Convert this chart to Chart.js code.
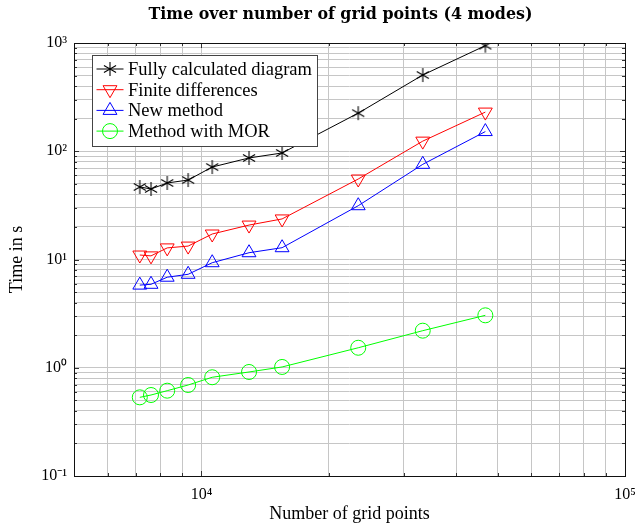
<!DOCTYPE html>
<html><head><meta charset="utf-8">
<script src="https://cdn.jsdelivr.net/npm/chart.js@4.4.1/dist/chart.umd.min.js"></script>
<style>html,body{margin:0;padding:0;background:#fff;}</style>
</head><body>
<canvas id="c" width="635" height="523"></canvas>
<script>
// ---- data ----
const gridPoints        = [7150, 7600, 8300, 9300, 10600, 12950, 15500, 23450, 33300, 46800];
const fullyCalculated   = [46.8, 44.8, 50.9, 54.2, 71.5, 86.7, 96.4, 225, 506, 945];
const finiteDifferences = [11.0, 10.8, 12.8, 13.3, 17.2, 20.8, 23.7, 55.4, 124, 230];
const newMethod         = [5.8, 5.9, 6.86, 7.3, 9.34, 11.55, 12.85, 31.4, 75.7, 152];
const methodMOR         = [0.533, 0.56, 0.614, 0.693, 0.817, 0.914, 1.017, 1.53, 2.2, 3.05];
const seriesNames = ['Fully calculated diagram', 'Finite differences', 'New method', 'Method with MOR'];
const xTickValues = [1e4, 1e5];
const xTickLabels = ['10⁴', '10⁵'];
const yTickValues = [0.1, 1, 10, 100, 1000];
const yTickLabels = ['10⁻¹', '10⁰', '10¹', '10²', '10³'];
const xRange = [5000, 100000];
const yRange = [0.1, 1000];

// ---- helpers ----
function logGrid(min, max) {
  const out = [];
  for (let e = Math.floor(Math.log10(min)); e <= Math.ceil(Math.log10(max)); e++) {
    for (let k = 1; k < 10; k++) {
      const v = Number((k * Math.pow(10, e)).toPrecision(12));
      if (v >= min * 0.9999 && v <= max * 1.0001) out.push(v);
    }
  }
  return out;
}
function labelFor(values, labels) {
  return (v) => {
    const i = values.findIndex(t => Math.abs(t - v) / t < 1e-9);
    return i >= 0 ? labels[i] : '';
  };
}
function isMajor(values, v) { return values.some(t => Math.abs(t - v) / t < 1e-9); }
function makeAsterisk(r, color) {
  const s = 2 * r + 2;
  const c = document.createElement('canvas');
  c.width = s; c.height = s;
  const g = c.getContext('2d');
  g.strokeStyle = color; g.lineWidth = 1.1;
  g.translate(s / 2, s / 2);
  g.beginPath();
  for (let k = 0; k < 3; k++) {
    const a = Math.PI / 2 + k * Math.PI / 3;
    g.moveTo(Math.cos(a) * r, Math.sin(a) * r);
    g.lineTo(-Math.cos(a) * r, -Math.sin(a) * r);
  }
  g.stroke();
  return c;
}
function fitSize(text, family, weight, target) {
  const g = document.createElement('canvas').getContext('2d');
  g.font = weight + ' 100px "' + family + '"';
  return 100 * target / g.measureText(text).width;
}

const SERIF = '"Liberation Serif", "Times New Roman", serif';
const titleText = 'Time over number of grid points (4 modes)';
const titleSize = Math.min(17, fitSize(titleText, 'DejaVu Serif', 'bold', 384));
const titleTop = 14.5 - 0.6 * titleSize;

const toXY = arr => arr.map((v, i) => ({x: gridPoints[i], y: v}));

const gridColor = '#c6c6c6';

const shiftTitle = {
  id: 'shiftTitle',
  afterLayout(chart) {
    const t = chart.titleBlock;
    if (t) { t.left -= 9; t.right -= 9; }
  }
};

const decor = {
  id: 'decor',
  afterDatasetsDraw(chart) {
    const {ctx, chartArea: a, scales: {x, y}} = chart;
    ctx.save();
    // inward tick marks
    ctx.strokeStyle = '#333';
    ctx.lineWidth = 1;
    ctx.beginPath();
    x.ticks.forEach(t => {
      const px = Math.round(x.getPixelForValue(t.value)) + 0.5;
      const L = isMajor(xTickValues, t.value) ? 5 : 3;
      ctx.moveTo(px, a.bottom); ctx.lineTo(px, a.bottom - L);
      ctx.moveTo(px, a.top); ctx.lineTo(px, a.top + L);
    });
    y.ticks.forEach(t => {
      const py = Math.round(y.getPixelForValue(t.value)) + 0.5;
      const L = isMajor(yTickValues, t.value) ? 5 : 3;
      ctx.moveTo(a.left, py); ctx.lineTo(a.left + L, py);
      ctx.moveTo(a.right, py); ctx.lineTo(a.right - L, py);
    });
    ctx.stroke();
    // frame
    ctx.strokeStyle = '#111';
    ctx.strokeRect(Math.round(a.left) + 0.5, Math.round(a.top) + 0.5,
                   Math.round(a.right - a.left), Math.round(a.bottom - a.top));
    // legend box
    const L = {x: a.left + 18.5, y: a.top + 12.5, w: 225, h: 91, row: 20.7, first: 13.5};
    ctx.fillStyle = '#fff';
    ctx.fillRect(L.x, L.y, L.w, L.h);
    ctx.strokeStyle = '#444';
    ctx.strokeRect(L.x, L.y, L.w, L.h);
    chart.data.datasets.forEach((ds, i) => {
      const cy = L.y + L.first + i * L.row;
      ctx.strokeStyle = ds.borderColor;
      ctx.lineWidth = 1;
      ctx.beginPath();
      ctx.moveTo(L.x + 4, cy); ctx.lineTo(L.x + 31, cy);
      ctx.stroke();
      ctx.fillStyle = 'rgba(0,0,0,0)';
      Chart.helpers.drawPoint(ctx, {
        pointStyle: ds.pointStyle, rotation: ds.pointRotation || 0,
        radius: ds.pointRadius, borderWidth: 1
      }, L.x + 17.5, cy);
      ctx.fillStyle = '#000';
      ctx.font = '18.5px ' + SERIF;
      ctx.textBaseline = 'alphabetic';
      ctx.textAlign = 'left';
      ctx.fillText(ds.label, L.x + 35.5, cy + 6);
    });
    ctx.restore();
  }
};

const common = {borderWidth: 1, fill: false, tension: 0, pointBorderWidth: 1,
                pointBackgroundColor: 'rgba(0,0,0,0)', pointHoverRadius: 0};

new Chart(document.getElementById('c'), {
  type: 'line',
  data: {
    datasets: [
      Object.assign({}, common, {label: seriesNames[0], data: toXY(fullyCalculated),
        borderColor: '#000', pointBorderColor: '#000', pointStyle: makeAsterisk(7, '#000'), pointRadius: 7}),
      Object.assign({}, common, {label: seriesNames[1], data: toXY(finiteDifferences),
        borderColor: '#ff0000', pointBorderColor: '#ff0000', pointStyle: 'triangle', pointRotation: 180, pointRadius: 8}),
      Object.assign({}, common, {label: seriesNames[2], data: toXY(newMethod),
        borderColor: '#0000ff', pointBorderColor: '#0000ff', pointStyle: 'triangle', pointRadius: 8}),
      Object.assign({}, common, {label: seriesNames[3], data: toXY(methodMOR),
        borderColor: '#00ff00', pointBorderColor: '#00ff00', pointStyle: 'circle', pointRadius: 7.5})
    ]
  },
  options: {
    responsive: false,
    animation: false,
    devicePixelRatio: 1,
    layout: {padding: {left: 0, right: 10, top: 0, bottom: 0}},
    plugins: {
      legend: {display: false},
      tooltip: {enabled: false},
      title: {
        display: true, text: titleText, fullSize: false, color: '#000',
        font: {family: 'DejaVu Serif', weight: 'bold', size: titleSize, lineHeight: 1.2},
        padding: {top: titleTop, bottom: 43 - titleTop - titleSize * 1.2}
      }
    },
    scales: {
      x: {
        type: 'logarithmic', min: xRange[0], max: xRange[1],
        afterBuildTicks: s => { s.ticks = logGrid(xRange[0], xRange[1]).map(v => ({value: v})); },
        afterFit: s => { s.height = 47; s.paddingLeft = 0; s.paddingRight = 0; },
        grid: {color: gridColor, lineWidth: 1, drawTicks: false},
        border: {display: false},
        ticks: {autoSkip: false, maxRotation: 0, minRotation: 0, padding: 9, color: '#000',
                font: {family: SERIF, size: 16}, callback: labelFor(xTickValues, xTickLabels)},
        title: {display: true, text: 'Number of grid points', color: '#000',
                font: {family: SERIF, size: 18, lineHeight: 1}, padding: {top: 0, bottom: 0}}
      },
      y: {
        type: 'logarithmic', min: yRange[0], max: yRange[1],
        afterBuildTicks: s => { s.ticks = logGrid(yRange[0], yRange[1]).map(v => ({value: v})); },
        afterFit: s => { s.width = 74; s.paddingTop = 0; s.paddingBottom = 0; },
        grid: {color: gridColor, lineWidth: 1, drawTicks: false},
        border: {display: false},
        ticks: {autoSkip: false, padding: 7, color: '#000',
                font: {family: SERIF, size: 16}, callback: labelFor(yTickValues, yTickLabels)},
        title: {display: true, text: 'Time in s', color: '#000',
                font: {family: SERIF, size: 18, lineHeight: 1}, padding: {top: 8, bottom: 0}}
      }
    }
  },
  plugins: [shiftTitle, decor]
});
</script>
</body></html>
